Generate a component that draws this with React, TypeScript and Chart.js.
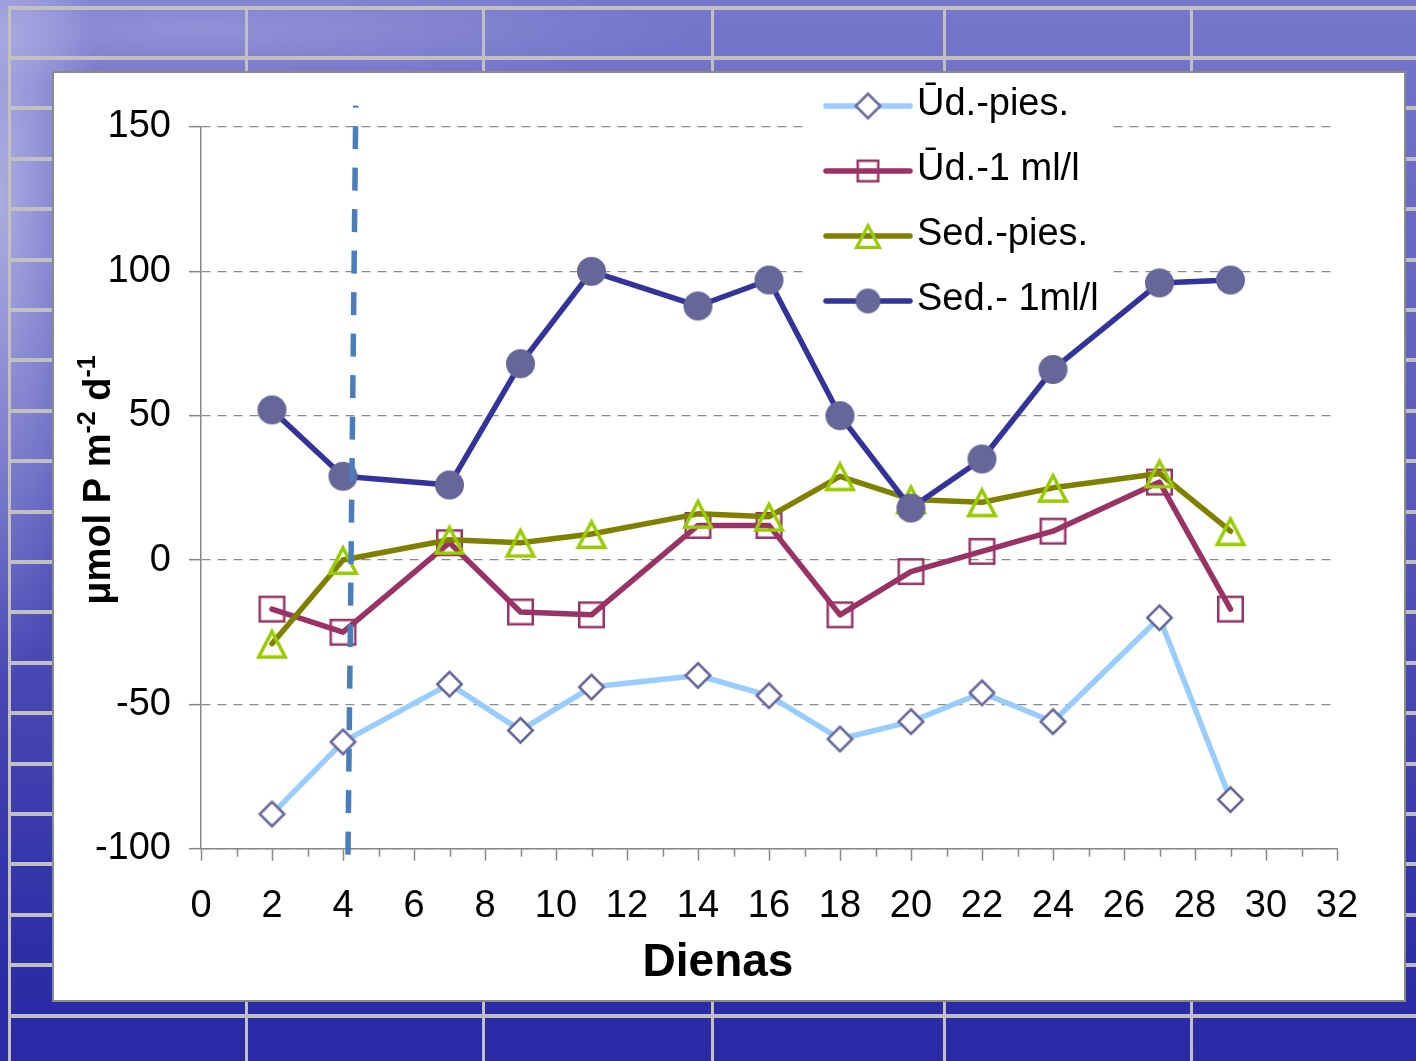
import React, { useEffect, useRef } from 'react';
import { Chart, registerables } from 'chart.js';

Chart.register(...registerables);

// ---- data ----
const days = [2, 4, 7, 9, 11, 14, 16, 18, 20, 22, 24, 27, 29];
const udPies = [-88, -63, -43, -59, -44, -40, -47, -62, -56, -46, -56, -20, -83];
const ud1ml = [-17, -25, 6, -18, -19, 12, 12, -19, -4, 3, 10, 27, -17];
const sedPies = [-29, 0, 7, 6, 9, 16, 15, 29, 21, 20, 25, 30, 10];
const sed1ml = [52, 29, 26, 68, 100, 88, 97, 50, 18, 35, 66, 96, 97];
const seriesLabels = ['Ūd.-pies.', 'Ūd.-1 ml/l', 'Sed.-pies.', 'Sed.- 1ml/l'];
const markerLineX = [4.36, 4.14];
const markerLineY = [157.4, -102.5];
const xMin = 0, xMax = 32, xStep = 2;
const yMin = -100, yMax = 150, yStep = 50;
const xTitle = 'Dienas';
const yTitleParts: [string, boolean][] = [['μmol P m', false], ['-2', true], [' d', false], ['-1', true]];

const FONT = '"Liberation Sans", Arial, Helvetica, sans-serif';
const BOX_X = 52, BOX_Y = 71, BOX_W = 1354, BOX_H = 931;

function makeMarker(kind: string, size: number, stroke: string, fill: string | null, lw: number) {
  const pad = 6;
  const dim = Math.ceil(size + pad * 2);
  const c = document.createElement('canvas');
  c.width = dim; c.height = dim;
  const g = c.getContext('2d')!;
  const m = dim / 2;
  const h = size / 2 - lw / 2;
  g.lineWidth = lw; g.strokeStyle = stroke; g.lineJoin = 'miter';
  g.beginPath();
  if (kind === 'diamond') {
    g.moveTo(m, m - h); g.lineTo(m + h, m); g.lineTo(m, m + h); g.lineTo(m - h, m); g.closePath();
  } else if (kind === 'square') {
    g.rect(m - h, m - h, 2 * h, 2 * h);
  } else if (kind === 'triangle') {
    g.moveTo(m, m - h + 1); g.lineTo(m + h, m + h); g.lineTo(m - h, m + h); g.closePath();
  } else {
    g.arc(m, m, size / 2, 0, Math.PI * 2);
  }
  if (fill) { g.fillStyle = fill; g.fill(); }
  if (kind !== 'circle' && lw > 0) g.stroke();
  return c;
}

export default function App() {
  const ref = useRef<HTMLCanvasElement>(null);

  useEffect(() => {
    const canvas = ref.current!;
    const plotMarkers = [
      makeMarker('diamond', 27, '#666699', '#ffffff', 2.5),
      makeMarker('square', 27, '#993366', null, 2.5),
      makeMarker('triangle', 30, '#99CC00', null, 3.5),
      makeMarker('circle', 29, '#666699', '#666699', 0),
    ];
    const legendMarkers = [
      makeMarker('diamond', 27, '#666699', '#ffffff', 2.5),
      makeMarker('square', 23, '#993366', null, 2.5),
      makeMarker('triangle', 26, '#99CC00', null, 3.2),
      makeMarker('circle', 25, '#666699', '#666699', 0),
    ];
    const lineColors = ['#99CCFF', '#993366', '#808000', '#333399'];
    const values = [udPies, ud1ml, sedPies, sed1ml];

    const seriesDatasets = values.map((vals, i) => ({
      type: 'line' as const,
      label: seriesLabels[i],
      data: days.map((d, j) => ({ x: d, y: vals[j] })),
      borderColor: lineColors[i],
      backgroundColor: lineColors[i],
      borderWidth: 5.5,
      borderCapStyle: 'round' as const,
      borderJoinStyle: 'round' as const,
      tension: 0,
      fill: false,
      pointStyle: plotMarkers[i] as any,
      pointRadius: 12,
      pointHoverRadius: 12,
      order: 4 - i,
    }));

    const markerDataset = {
      type: 'line' as const,
      label: 'marker',
      data: markerLineX.map((x, i) => ({ x, y: markerLineY[i] })),
      borderColor: '#4A7EBB',
      borderWidth: 5.5,
      borderDash: [23, 18.5],
      borderDashOffset: 21,
      borderCapStyle: 'butt' as const,
      pointRadius: 0,
      fill: false,
      clip: false as any,
      order: 0,
    };

    const decor = {
      id: 'decor',
      beforeDatasetsDraw(chart: any) {
        const ctx = chart.ctx as CanvasRenderingContext2D;
        ctx.save();
        // legend background
        ctx.fillStyle = '#ffffff';
        ctx.fillRect(806 - BOX_X, 80 - BOX_Y, 1113 - 806, 320 - 80);
        const dsets = chart.data.datasets.filter((d: any) => seriesLabels.includes(d.label));
        dsets.forEach((d: any, i: number) => {
          const y = 106 - BOX_Y + 65 * i;
          ctx.strokeStyle = d.borderColor;
          ctx.lineWidth = 5.5;
          ctx.lineCap = 'round';
          ctx.setLineDash([]);
          ctx.beginPath();
          ctx.moveTo(826 - BOX_X, y);
          ctx.lineTo(910 - BOX_X, y);
          ctx.stroke();
          const mk = legendMarkers[i];
          ctx.drawImage(mk, 868 - BOX_X - mk.width / 2, y - mk.height / 2);
          ctx.fillStyle = '#000';
          ctx.font = `38px ${FONT}`;
          ctx.textAlign = 'left';
          ctx.textBaseline = 'alphabetic';
          ctx.fillText(d.label, 917 - BOX_X, y + 8.5);
        });
        ctx.restore();
      },
      afterDraw(chart: any) {
        const ctx = chart.ctx as CanvasRenderingContext2D;
        const xs = chart.scales.x;
        const ys = chart.scales.y;
        ctx.save();
        // minor ticks on x axis
        const axisY = ys.getPixelForValue(yMin);
        ctx.strokeStyle = '#868686';
        ctx.lineWidth = 1.5;
        for (let v = xMin + 1; v < xMax; v += xStep) {
          const px = Math.round(xs.getPixelForValue(v)) + 0.5;
          ctx.beginPath();
          ctx.moveTo(px, axisY);
          ctx.lineTo(px, axisY + 8);
          ctx.stroke();
        }
        // x title
        ctx.fillStyle = '#000';
        ctx.font = `bold 46px ${FONT}`;
        ctx.textAlign = 'center';
        ctx.textBaseline = 'alphabetic';
        ctx.fillText(xTitle, 718 - BOX_X, 976 - BOX_Y);
        // y title (rotated, with superscripts)
        const main = `bold 38px ${FONT}`;
        const sup = `bold 25px ${FONT}`;
        let total = 0;
        yTitleParts.forEach(([t, s]) => { ctx.font = s ? sup : main; total += ctx.measureText(t).width; });
        ctx.translate(110 - BOX_X, 480 - BOX_Y);
        ctx.rotate(-Math.PI / 2);
        ctx.textAlign = 'left';
        let cx = -total / 2;
        yTitleParts.forEach(([t, s]) => {
          ctx.font = s ? sup : main;
          ctx.fillText(t, cx, s ? -15 : 0);
          cx += ctx.measureText(t).width;
        });
        ctx.restore();
      },
    };

    const chart = new Chart(canvas, {
      type: 'line',
      data: { datasets: [markerDataset as any, ...seriesDatasets] },
      options: {
        responsive: false,
        animation: false,
        events: [],
        layout: { padding: { top: 56, right: 69, left: 0, bottom: 0 } },
        plugins: { legend: { display: false }, tooltip: { enabled: false }, title: { display: false } },
        scales: {
          x: {
            type: 'linear',
            min: xMin, max: xMax,
            afterFit: (s: any) => { s.height = 153.3; },
            ticks: {
              stepSize: xStep,
              color: '#000',
              font: { family: FONT, size: 38 },
              padding: 23,
              maxRotation: 0,
              autoSkip: false,
              callback: (v: any) => String(v),
            },
            grid: { display: true, drawOnChartArea: false, drawTicks: true, tickLength: 12, tickColor: '#868686', tickWidth: 1.5 },
            border: { display: true, color: '#868686', width: 1.5 },
          },
          y: {
            type: 'linear',
            min: yMin, max: yMax,
            afterFit: (s: any) => { s.width = 149; },
            ticks: {
              stepSize: yStep,
              color: '#000',
              font: { family: FONT, size: 38 },
              padding: 18,
              callback: (v: any) => String(v),
            },
            grid: { display: true, drawOnChartArea: true, drawTicks: true, tickLength: 12, color: '#8c8c8c', lineWidth: 1.3, tickColor: '#868686', tickWidth: 1.5, tickBorderDash: [] },
            border: { display: true, color: '#868686', width: 1.5, dash: [9, 7] },
          },
        },
      } as any,
      plugins: [decor],
    });
    return () => chart.destroy();
  }, []);

  const hLines: number[] = [];
  for (let k = 0; k <= 20; k++) hLines.push(7.5 + 50.4 * k);
  const vLines = [9, 246, 483, 712, 944, 1191];

  return (
    <div
      style={{
        position: 'fixed', left: 0, top: 0, width: 1416, height: 1061, overflow: 'hidden',
        background:
          'radial-gradient(ellipse 100px 480px at 0px 200px, rgba(215,215,245,0.6), rgba(215,215,245,0) 100%),' +
          'radial-gradient(ellipse 500px 60px at 200px 30px, rgba(200,200,240,0.35), rgba(200,200,240,0) 100%),' +
          'linear-gradient(180deg, #7676cc 0%, #6b6bc6 18%, #5a5abd 45%, #4040b0 72%, #2d2da8 90%, #2a2aa6 100%)',
      }}
    >
      {hLines.map((y, i) => (
        <div key={'h' + i} style={{ position: 'absolute', left: 9, right: 0, top: y - 2, height: 4, background: '#c0c0c0' }} />
      ))}
      {vLines.map((x, i) => (
        <div key={'v' + i} style={{ position: 'absolute', left: x - 1.5, width: 3, top: 6, bottom: 0, background: '#c0c0c0' }} />
      ))}
      <div
        style={{
          position: 'absolute', left: BOX_X, top: BOX_Y, width: BOX_W - 4, height: BOX_H - 4,
          background: '#ffffff', border: '2px solid #8a8a8a',
        }}
      />
      <canvas
        ref={ref}
        width={BOX_W}
        height={BOX_H}
        style={{ position: 'absolute', left: BOX_X, top: BOX_Y, width: BOX_W, height: BOX_H }}
      />
    </div>
  );
}
